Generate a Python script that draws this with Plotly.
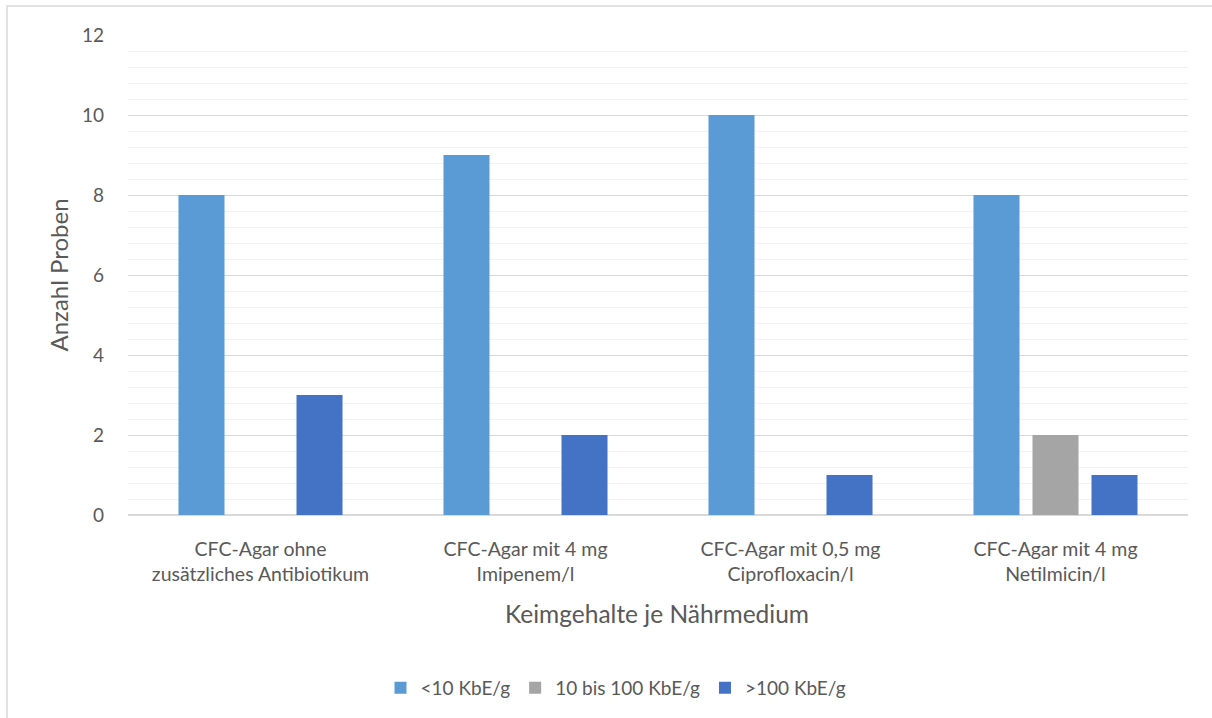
import plotly.graph_objects as go

categories = [
    "CFC-Agar ohne<br>zusätzliches Antibiotikum",
    "CFC-Agar mit 4 mg<br>Imipenem/l",
    "CFC-Agar mit 0,5 mg<br>Ciprofloxacin/l",
    "CFC-Agar mit 4 mg<br>Netilmicin/l",
]
series_names = ["<10 KbE/g", "10 bis 100 KbE/g", ">100 KbE/g"]
low = [8, 9, 10, 8]
mid = [0, 0, 0, 2]
high = [3, 2, 1, 1]
colors = ["#5B9BD5", "#A5A5A5", "#4472C4"]

FONT = "Lato"
TXT = "#595959"

fig = go.Figure()
for name, vals, col in zip(series_names, [low, mid, high], colors):
    fig.add_trace(go.Bar(x=categories, y=vals, name=name,
                         marker=dict(color=col, line=dict(width=0))))

L, R, T, B = 128, 24, 35, 202
W, H = 1212, 718
pw, ph = W - L - R, H - T - B

def px(x):
    return (x - L) / pw

def py(y):
    return (H - B - y) / ph

fig.update_layout(
    width=W, height=H,
    margin=dict(l=L, r=R, t=T, b=B),
    paper_bgcolor="white", plot_bgcolor="white",
    barmode="group", bargap=0.332, bargroupgap=0.22,
    font=dict(family=FONT, color=TXT, size=19),
    showlegend=True,
    legend=dict(orientation="h", x=px(616), xanchor="center", y=py(688), yanchor="middle",
                font=dict(size=19, color=TXT), itemwidth=30, traceorder="normal"),
    xaxis=dict(showgrid=False, showline=False, ticks="", tickfont=dict(size=19.5, color=TXT),
               ticklabelstandoff=20),
    yaxis=dict(range=[0, 12], dtick=2, tickfont=dict(size=19, color=TXT),
               showgrid=True, gridcolor="#D9D9D9", gridwidth=1,
               minor=dict(dtick=0.4, showgrid=True, gridcolor="#F2F2F2", gridwidth=1),
               zeroline=True, zerolinecolor="#D9D9D9", zerolinewidth=1.5,
               showline=False, ticks="", ticklabelstandoff=23),
    annotations=[
        dict(text="Anzahl Proben", x=px(58), y=py(276), xref="paper", yref="paper",
             textangle=-90, showarrow=False, font=dict(size=24, color=TXT),
             xanchor="center", yanchor="middle"),
        dict(text="Keimgehalte je Nährmedium", x=px(657), y=py(615), xref="paper", yref="paper",
             showarrow=False, font=dict(size=24.5, color=TXT),
             xanchor="center", yanchor="middle"),
    ],
    shapes=[
        dict(type="rect", xref="paper", yref="paper",
             x0=px(7), x1=px(1216), y0=py(722), y1=py(6),
             line=dict(color="#D9D9D9", width=1.5), fillcolor="rgba(0,0,0,0)", layer="below"),
    ],
)

fig.write_html("out.html")
